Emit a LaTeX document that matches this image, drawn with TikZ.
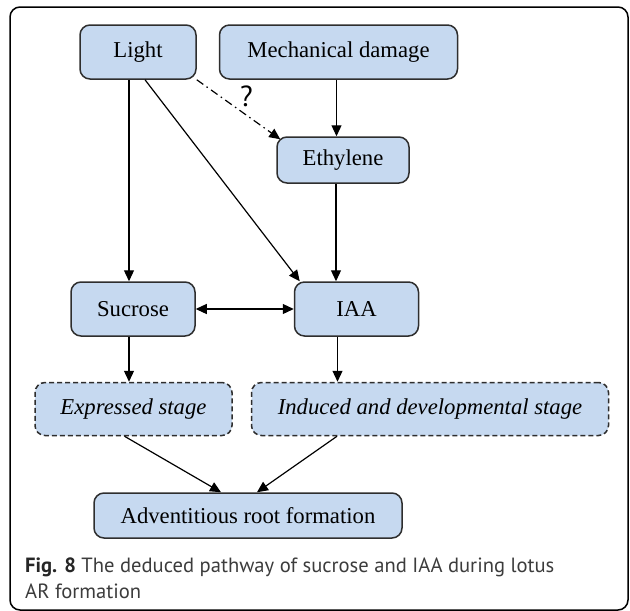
\documentclass[tikz,border=0pt]{standalone}
\usepackage{fontspec}
\setmainfont{Liberation Serif}
\newfontfamily\capfont{PT Sans}
\usepackage{xcolor}
\usepackage{tikz}
\usetikzlibrary{positioning, arrows.meta}
\definecolor{boxblue}{HTML}{C6D9F0}
\definecolor{boxline}{HTML}{2E2E2E}
\definecolor{capgray}{HTML}{3C3C3C}
\tikzset{
  stepbox/.style={draw=boxline, line width=1.5pt, rounded corners=10pt, fill=boxblue, align=center, font=\fontsize{22.7}{27}\selectfont, minimum height=54pt, inner sep=4pt},
  stagebox/.style={stepbox, dash pattern=on 5pt off 3pt, font=\fontsize{22.7}{27}\selectfont\itshape, minimum height=53pt},
  arrow/.style={-{Triangle[length=11pt, width=10pt]}, line width=1.2pt, draw=black},
  twoway/.style={{Triangle[length=11pt, width=10pt]}-{Triangle[length=11pt, width=10pt]}, line width=1.2pt, draw=black},
  guessarrow/.style={arrow, dash pattern=on 8pt off 4pt on 1.5pt off 4pt},
  qmark/.style={font=\fontsize{29}{30}\selectfont\capfont, inner sep=0pt},
  frame/.style={draw=black, line width=1.5pt, rounded corners=10pt},
}
\begin{document}
\begin{tikzpicture}[x=1pt, y=-1pt]
  \useasboundingbox (0,0) rectangle (630,611);
  \draw[frame] (10,7) rectangle (628,610);

  % Top row: Light, Mechanical damage
  \node[stepbox, minimum width=116pt] (light) at (138,52) {Light};
  \node[stepbox, right=22pt of light, minimum width=238pt] (mech) {Mechanical damage};
  \node[stepbox, minimum width=132pt, minimum height=46pt] (ethylene) at (343,160) {Ethylene};

  % Middle row: Sucrose, IAA
  \node[stepbox, minimum width=124pt] (sucrose) at (133,309) {Sucrose};
  \node[stepbox, right=98pt of sucrose, minimum width=124pt] (iaa) {IAA};

  % Stages (dashed)
  \node[stagebox, minimum width=197pt] (expressed) at (133.5,409) {Expressed stage};
  \node[stagebox, right=18pt of expressed, minimum width=357pt] (induced) {Induced and developmental stage};

  % Outcome
  \node[stepbox, minimum width=308pt, minimum height=45pt] (root) at (248,515.5) {Adventitious root formation};

  % Edges
  \draw[arrow] ([xshift=-4pt]sucrose.north |- light.south) -- ([xshift=-4pt]sucrose.north);
  \draw[arrow] ([xshift=7pt]light.south) -- ([xshift=6pt]iaa.north west);
  \draw[guessarrow] (light.south east) -- ([shift={(4pt,-3pt)}]ethylene.north west)
    node[qmark, pos=0.5, xshift=8pt, yshift=13pt] {?};
  \draw[arrow] ([xshift=-2pt]mech.south) -- ([xshift=-2pt]mech.south |- ethylene.north);
  \draw[arrow] ([xshift=-7pt]ethylene.south) -- ([xshift=-7pt]ethylene.south |- iaa.north);
  \draw[twoway] (sucrose.east) -- (iaa.west);
  \draw[arrow] ([xshift=-4pt]sucrose.south) -- ([xshift=-4pt]sucrose.south |- expressed.north);
  \draw[arrow] ([xshift=-19pt]iaa.south) -- ([xshift=-19pt]iaa.south |- induced.north);
  \draw[arrow] ([xshift=-9pt]expressed.south) -- ([xshift=-27pt]root.north);
  \draw[arrow] ([xshift=-93pt]induced.south) -- ([xshift=9pt]root.north);

  % Caption
  \node[anchor=base west, align=left, inner sep=0pt, text=capgray, font=\capfont\fontsize{20.6}{26}\selectfont]
    (caption) at (25,598) {{\bfseries\color{black!85}Fig. 8} The deduced pathway of sucrose and IAA during lotus\\AR formation};
\end{tikzpicture}
\end{document}
